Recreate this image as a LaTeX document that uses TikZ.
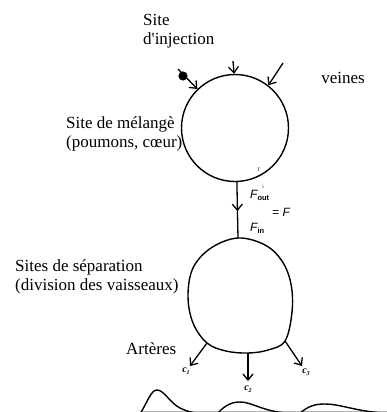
\documentclass[tikz,border=0pt]{standalone}
\usepackage{fontspec}
\setmainfont{Liberation Serif}
\newfontfamily\lsans{Liberation Sans}
\newfontfamily\rawserif{Liberation Serif}
\usetikzlibrary{arrows.meta,calc}
\begin{document}
\begin{tikzpicture}[x=1pt,y=-1pt,
  lbl/.style={inner sep=0pt,align=left,font=\fontsize{17}{19.5}\selectfont},
  organ/.style={line width=1.4pt},
  wire/.style={line width=1.3pt},
  flow/.style={line width=1.3pt,-{Straight Barb[length=6pt,width=10pt]}},
  flab/.style={inner sep=0pt,font=\lsans\itshape\fontsize{12}{12}\selectfont},
  clab/.style={inner sep=0pt,font=\itshape\bfseries\fontsize{10}{10}\selectfont},
  tiny/.style={inner sep=0pt,font=\fontsize{5}{5}\selectfont},
  curve/.style={line width=1.4pt}]
\useasboundingbox (0,0) rectangle (387,412);
\clip (0,0) rectangle (387,412);

% labels
\node[lbl,anchor=west] (inj) at (143,31) {Site\\d{\rawserif'}injection};
\node[lbl] (vei) at (343,78) {veines};
\node[lbl,anchor=west] (mel) at (66,134) {Site de mélangè\\(poumons, cœur)};
\node[lbl,anchor=west] (sepl) at (15,277) {Sites de séparation\\(division des vaisseaux)};
\node[lbl,anchor=west] (art) at (126,349) {Artères};

% mixing site
\node[organ,draw,circle,minimum size=107pt,inner sep=0pt] (mix) at (235,128) {};

% inputs
\coordinate (i1) at (178,69);
\coordinate (i2) at (233,61);
\coordinate (i3) at (283,63);
\fill (183,76) circle (4.6pt);
\draw[flow] (i1) -- (mix.134);
\draw[flow] (i2) -- (mix.91);
\draw[flow] (i3) -- (mix.52);

% separation site
\coordinate (septop) at (238,238);
\coordinate (s1) at (207,343);
\coordinate (s2) at (248,353);
\coordinate (s3) at (285,341);
\draw[organ] plot[smooth cycle,tension=0.6] coordinates {
  (238,238) (265,245) (282,261) (291,284) (292,312) (s3)
  (268,350) (s2) (226,351) (s1) (193,323) (188,296) (193,268) (211,248)};

% connection between sites
\coordinate (mbot) at ($(mix.-88)$);
\draw[flow] (mbot) -- ($(mbot)!0.52!(septop)$);
\draw[wire] ($(mbot)!0.5!(septop)$) -- (septop);

\node[flab,anchor=west] (fout) at (250,195) {F\raisebox{-2pt}{\upshape\bfseries\fontsize{7.5}{7.5}\selectfont out}};
\node[flab,anchor=west] (eqf) at (272,212) {= F};
\node[flab,anchor=west] (fin) at (250,228) {F\raisebox{-2pt}{\upshape\bfseries\fontsize{7.5}{7.5}\selectfont in}};
\node[tiny] (m1) at (259,170) {T};
\node[tiny] (m2) at (263,187) {i};

% outputs
\coordinate (o1) at (190,366);
\coordinate (o2) at (248,381);
\coordinate (o3) at (302,366);
\draw[flow] (s1) -- (o1);
\draw[flow] (s2) -- (o2);
\draw[flow] (s3) -- (o3);
\node[clab] (c1) at (186,371) {c\raisebox{-1.5pt}{\fontsize{6}{6}\selectfont 1}};
\node[clab] (c2) at (248,389) {c\raisebox{-1.5pt}{\fontsize{6}{6}\selectfont 2}};
\node[clab] (c3) at (306,372) {c\raisebox{-1.5pt}{\fontsize{6}{6}\selectfont 3}};

% concentration curves
\draw[gray!60,line width=0.6pt] (140,411.5) -- (387,411.5);
\draw[curve] (140,414) .. controls (148,401) and (151,390) .. (157,390)
  .. controls (164,390) and (170,403) .. (180,408) .. controls (186,411) and (190,412) .. (196,413);
\draw[curve] (217,414) .. controls (225,405) and (232,402) .. (240,402)
  .. controls (252,402) and (262,411) .. (286,413);
\draw[curve] (299,414) .. controls (308,406) and (315,404) .. (325,404)
  .. controls (340,404) and (355,411) .. (383,413);
\end{tikzpicture}
\end{document}
